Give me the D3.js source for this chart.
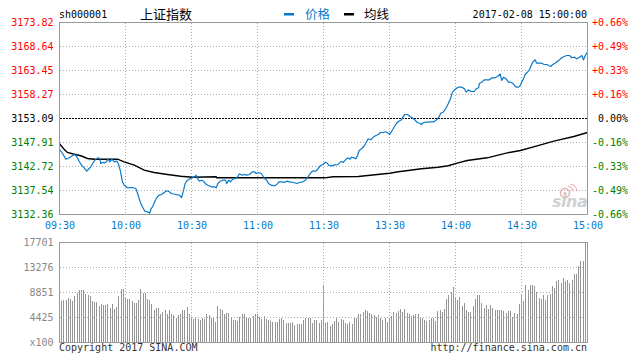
<!DOCTYPE html>
<html><head><meta charset="utf-8">
<script src="https://cdn.jsdelivr.net/npm/d3@7"></script>
<style>
html,body{margin:0;padding:0;background:#fff;}
svg{display:block;}
</style></head><body><svg id="c" width="643" height="358"></svg>
<script>
// ---- data ----
const symbol = "sh000001";
const title = "上证指数";
const stamp = "2017-02-08 15:00:00";
const prevClose = 3153.09;
const timeLabels = ["09:30","10:00","10:30","11:00","11:30","13:30","14:00","14:30","15:00"];
const timeMinutes = [0,30,60,90,120,150,180,210,240];
const priceTicks = [3173.82,3168.64,3163.45,3158.27,3153.09,3147.91,3142.72,3137.54,3132.36];
const pctLabels = ["+0.66%","+0.49%","+0.33%","+0.16%","0.00%","-0.16%","-0.33%","-0.49%","-0.66%"];
const volTicks = [17701,13276,8851,4425,0];
const volTickLabels = ["17701","13276","8851","4425","x100"];

const priceMinutes = [0,1.4,2.9,4.4,5.9,7.0,7.9,8.9,10.0,11.2,12.4,13.5,14.2,15.5,16.5,17.6,18.3,18.8,19.5,20.6,21.5,22.1,22.9,23.8,24.9,26.0,26.7,27.6,28.2,28.6,29.4,30.9,33.2,34.7,35.5,36.2,37.0,37.7,38.8,40.0,41.0,41.5,42.3,43.3,44.2,45.3,46.4,47.6,48.6,49.9,50.9,52.9,54.4,55.5,56.4,57.1,58.2,59.4,60.5,61.4,62.1,62.9,63.6,64.7,65.5,66.2,67.4,69.0,70.5,71.2,72.0,73.0,74.2,75.5,76.0,77.0,77.7,78.8,80.0,81.0,81.8,83.0,84.1,85.1,86.4,87.6,88.6,89.4,90.5,91.7,92.4,93.2,94.2,95.0,96.2,97.7,98.8,99.7,101.2,102.3,103.3,104.5,106.4,107.9,109.1,110.6,111.8,112.9,114.0,114.9,116.4,117.4,118.5,119.7,120.9,121.8,122.4,123.6,125.1,126.7,127.4,128.2,129.0,130.0,130.9,132.0,132.7,133.8,134.7,135.5,136.2,137.3,138.3,139.2,140.3,141.5,142.6,143.6,144.9,145.9,147.1,148.2,149.4,150.1,151.2,152.1,153.2,154.2,155.5,156.2,157.0,158.2,159.2,160.3,161.5,162.6,163.8,164.5,165.5,166.8,169.1,170.1,171.4,172.4,173.3,174.4,175.5,176.7,177.7,178.6,179.7,180.8,181.4,182.9,184.0,184.9,185.9,187.0,188.5,189.4,190.5,190.9,192.0,193.0,194.2,195.5,196.5,198.0,199.1,200.3,201.0,201.8,203.0,204.1,205.1,206.0,206.8,207.6,208.6,209.4,210.1,210.9,211.7,212.7,213.6,214.4,215.1,216.2,216.9,218.2,219.2,220.3,221.5,222.3,223.3,224.2,225.3,226.4,227.3,228.3,229.4,230.6,231.8,232.9,234.0,235.1,236.4,237.4,238.2,239.0,239.7,240];
const priceValues = [3146.40,3145.53,3144.30,3144.60,3145.03,3145.32,3144.82,3143.87,3143.01,3142.44,3141.71,3142.29,3142.66,3143.74,3144.30,3144.60,3144.45,3143.37,3143.59,3143.52,3143.87,3144.30,3143.74,3144.30,3143.74,3143.87,3143.37,3141.93,3140.50,3139.42,3138.69,3138.12,3138.19,3137.97,3136.89,3135.82,3134.73,3134.02,3133.07,3132.94,3132.64,3133.50,3134.02,3135.10,3135.97,3136.53,3136.68,3137.11,3137.48,3137.26,3136.89,3136.68,3136.53,3136.03,3137.61,3139.05,3139.77,3140.13,3140.28,3140.50,3140.85,3139.98,3139.55,3139.77,3139.55,3139.05,3138.69,3138.34,3138.34,3138.12,3139.05,3139.55,3139.77,3139.77,3139.05,3139.77,3139.42,3139.98,3140.13,3140.50,3141.15,3140.85,3141.00,3140.85,3141.00,3141.58,3141.58,3141.21,3141.43,3141.21,3140.72,3140.13,3139.77,3139.05,3138.69,3138.56,3138.84,3139.42,3139.42,3139.27,3139.55,3139.42,3139.27,3139.05,3139.27,3139.42,3139.77,3140.50,3141.21,3141.71,3141.71,3142.14,3142.88,3143.16,3143.65,3143.44,3142.94,3142.87,3143.09,3143.16,3143.65,3143.80,3143.59,3144.17,3144.60,3144.30,3144.73,3144.60,3144.39,3145.10,3146.18,3146.55,3147.04,3147.76,3148.71,3148.49,3149.05,3149.35,3149.63,3150.07,3150.07,3150.22,3149.92,3149.63,3150.50,3151.21,3152.07,3152.51,3152.81,3153.52,3153.95,3153.95,3153.52,3153.24,3152.81,3152.23,3152.07,3151.79,3152.23,3152.30,3152.38,3152.38,3152.81,3153.37,3154.23,3154.45,3155.18,3156.26,3157.34,3158.77,3159.29,3159.72,3159.85,3159.85,3159.50,3158.77,3159.29,3158.92,3158.92,3159.50,3159.72,3160.71,3160.93,3161.45,3161.45,3161.45,3161.88,3161.88,3162.16,3162.74,3161.30,3162.01,3161.66,3160.93,3160.93,3160.71,3160.22,3159.85,3159.85,3160.22,3160.93,3161.66,3162.59,3163.09,3163.61,3164.53,3165.25,3165.77,3165.03,3165.03,3165.03,3164.75,3164.75,3164.53,3164.32,3164.75,3165.03,3165.46,3165.77,3166.20,3166.48,3166.69,3166.69,3166.20,3166.33,3165.98,3166.33,3166.69,3165.77,3166.69,3167.19,3167.41];

const avgMinutes = [0,2.1,3.6,6.7,9.7,12.7,15.8,26.4,29.4,34.0,38.5,43.0,49.1,55.1,60.5,71.2,71.5,120.5,124.4,135.8,145.6,150.1,154.0,158.5,164.5,172.1,176.7,180.8,185.3,194.4,203.5,209.5,217.1,224.7,233.8,240];
const avgValues = [3147.63,3146.46,3145.75,3145.38,3145.04,3144.45,3144.30,3144.30,3143.74,3143.01,3141.93,3141.43,3141.00,3140.63,3140.41,3140.50,3140.28,3140.28,3140.50,3140.57,3141.06,3141.28,3141.58,3141.86,3142.23,3142.57,3142.88,3143.44,3144.02,3144.60,3145.68,3146.18,3147.19,3148.19,3149.20,3150.07];

const volumes = [12803,7316,7493,7493,7965,7788,7316,8201,8850,9263,
9263,9263,8673,8378,8201,7375,7198,7198,6431,6785,
6608,6608,6785,6195,6785,6018,6313,8201,9440,9440,
8083,7670,7670,7316,7021,7021,7611,9440,8850,8850,
7788,7493,6785,5841,6136,6136,5133,5428,5723,5015,
5723,5015,4838,4425,4838,5015,5841,5841,6313,5133,
4543,4130,4425,4130,3953,4425,4248,5015,4838,4366,
4543,3658,6431,6018,5723,5015,5251,5251,4543,3953,
3953,3835,4543,5133,5133,4543,4425,4425,4661,5015,
5015,4543,4248,4661,4248,3953,3835,3658,3658,3658,
4248,4366,3953,3481,3481,3481,3658,3068,3245,3245,
3245,3953,4425,4425,4425,3481,3953,3953,3481,4071,
10266,3481,3658,2891,3245,3776,4425,3658,4248,4071,
3481,3363,3658,3245,4425,4425,5015,5015,5428,5723,
5546,5251,5015,4838,4543,4838,4425,3953,4425,3658,
4248,4661,5428,5251,5605,6018,5428,6018,5251,5133,
4661,4838,5015,5015,4425,4425,3953,3835,4071,4425,
4425,3835,5546,5723,5428,5900,7788,8378,8968,9853,
8083,7493,8083,6431,7021,5841,5428,5428,6431,7788,
8378,8378,7021,6195,6608,6018,6608,6195,5841,5841,
5841,5841,5546,5251,5546,5546,4543,5251,5133,6903,
8378,7375,10148,9381,10148,10148,9971,8968,7965,7788,
8378,7611,8378,8555,9971,9735,10915,11151,10561,11505,
10915,11151,10561,11151,12213,12213,13511,14396,14396,17701,
17701];

// ---- drawing ----
const MONO = "'DejaVu Sans Mono','Liberation Mono',monospace";
const CJK = "'Noto Sans CJK SC','Noto Sans',sans-serif";
const BLUE = "#0a78c8", GRID = "#adadad", BORDER = "#999", RED = "#ff0000", GREEN = "#008000";
const L = 59.5, R = 587.5, T = 22.5, B = 214.5, VT = 242.5, VB = 342.5;

const svg = d3.select("#c");
const x = d3.scaleLinear().domain([0, 240]).range([L, R]);
const y = d3.scaleLinear().domain([priceTicks[priceTicks.length-1], priceTicks[0]]).range([B, T]);
const yv = d3.scaleLinear().domain([0, volTicks[0]]).range([VB, VT]);
const snap = v => Math.round(v - 0.5) + 0.5;

// header
svg.append("text").attr("x", 59).attr("y", 18).attr("font-family", MONO).attr("font-size", 10).attr("fill", "#000").text(symbol);
svg.append("text").attr("x", 140).attr("y", 19).attr("font-family", CJK).attr("font-size", 13).attr("fill", "#000").text(title);
svg.append("rect").attr("x", 284).attr("y", 13).attr("width", 10).attr("height", 2.5).attr("fill", BLUE);
svg.append("text").attr("x", 305).attr("y", 19).attr("font-family", CJK).attr("font-size", 12.5).attr("fill", BLUE).text("价格");
svg.append("rect").attr("x", 344).attr("y", 13).attr("width", 10).attr("height", 2.5).attr("fill", "#000");
svg.append("text").attr("x", 364).attr("y", 19).attr("font-family", CJK).attr("font-size", 12.5).attr("fill", "#000").text("均线");
svg.append("text").attr("x", 587).attr("y", 18).attr("text-anchor", "end").attr("font-family", MONO).attr("font-size", 10).attr("fill", "#000").text(stamp);

// grids - main
const gMain = svg.append("g").attr("shape-rendering", "crispEdges");
gMain.selectAll("line.h").data(priceTicks.slice(1, -1).filter(d => d !== prevClose)).join("line")
  .attr("x1", L).attr("x2", R).attr("y1", d => snap(y(d))).attr("y2", d => snap(y(d)))
  .attr("stroke", GRID).attr("stroke-dasharray", "1,2");
gMain.selectAll("line.v").data(timeMinutes.slice(1, -1)).join("line")
  .attr("y1", T).attr("y2", B).attr("x1", d => snap(x(d))).attr("x2", d => snap(x(d)))
  .attr("stroke", GRID).attr("stroke-dasharray", "1,2");
gMain.append("line").attr("x1", L).attr("x2", R).attr("y1", snap(y(prevClose))).attr("y2", snap(y(prevClose)))
  .attr("stroke", "#000").attr("stroke-dasharray", "2,1");

// watermark
const wm = svg.append("g").attr("opacity", 0.55);
wm.append("circle").attr("cx", 565).attr("cy", 193).attr("r", 4.5).attr("fill", "none").attr("stroke", "#e07878").attr("stroke-width", 1.6);
wm.append("circle").attr("cx", 565).attr("cy", 193.5).attr("r", 1.6).attr("fill", "#999");
wm.append("path").attr("d", "M568 186 q4 1 5 5 M570 184 q6 1 7 7").attr("fill", "none").attr("stroke", "#e07878").attr("stroke-width", 1.2);
wm.append("text").attr("x", 552).attr("y", 207).attr("font-family", "'DejaVu Sans',sans-serif").attr("font-size", 16)
  .attr("font-weight", "bold").attr("font-style", "italic").attr("fill", "#aaa").attr("letter-spacing", -0.5).text("sina");

// lines
const line = d3.line().x(d => x(d[0])).y(d => y(d[1]));
svg.append("path").datum(avgMinutes.map((m, i) => [m, avgValues[i]]))
  .attr("d", line).attr("fill", "none").attr("stroke", "#000").attr("stroke-width", 1.4);
svg.append("path").datum(priceMinutes.map((m, i) => [m, priceValues[i]]))
  .attr("d", line).attr("fill", "none").attr("stroke", BLUE).attr("stroke-width", 1.2).attr("stroke-linejoin", "round");

// main border
svg.append("rect").attr("x", L).attr("y", T).attr("width", R - L).attr("height", B - T)
  .attr("fill", "none").attr("stroke", BORDER).attr("shape-rendering", "crispEdges");

// left price axis
const axL = svg.append("g").attr("transform", `translate(${L},0)`)
  .call(d3.axisLeft(y).tickValues(priceTicks).tickSize(0).tickPadding(6).tickFormat(d => d.toFixed(2)));
axL.select(".domain").remove();
axL.attr("font-family", MONO).attr("font-size", 10);
axL.selectAll("text").attr("fill", d => d > prevClose ? RED : (d < prevClose ? GREEN : "#000"));

// right pct axis
const axR = svg.append("g").attr("transform", `translate(${R},0)`)
  .call(d3.axisRight(y).tickValues(priceTicks).tickSize(0).tickFormat((d, i) => pctLabels[i]));
axR.select(".domain").remove();
axR.attr("font-family", MONO).attr("font-size", 10);
axR.selectAll("text").attr("text-anchor", "end").attr("x", 628 - R)
  .attr("fill", d => d > prevClose ? RED : (d < prevClose ? GREEN : "#000"));

// time axis
const axB = svg.append("g").attr("transform", `translate(0,${B - 0.5})`)
  .call(d3.axisBottom(x).tickValues(timeMinutes).tickSize(0).tickPadding(8).tickFormat((d, i) => timeLabels[i]));
axB.select(".domain").remove();
axB.attr("font-family", MONO).attr("font-size", 10);
axB.selectAll("text").attr("fill", BLUE);

// volume bars
svg.append("g").attr("shape-rendering", "crispEdges").selectAll("rect").data(volumes).join("rect")
  .attr("x", (d, i) => Math.round(x(i) - 0.5)).attr("width", 1)
  .attr("y", d => Math.round(yv(d))).attr("height", d => VB - Math.round(yv(d)))
  .attr("fill", "#959595");

// volume grids
const gVol = svg.append("g").attr("shape-rendering", "crispEdges");
gVol.selectAll("line.h").data(volTicks.slice(1, -1)).join("line")
  .attr("x1", L).attr("x2", R).attr("y1", d => snap(yv(d))).attr("y2", d => snap(yv(d)))
  .attr("stroke", GRID).attr("stroke-dasharray", "1,2");
gVol.selectAll("line.v").data(timeMinutes.slice(1, -1)).join("line")
  .attr("y1", VT).attr("y2", VB).attr("x1", d => snap(x(d))).attr("x2", d => snap(x(d)))
  .attr("stroke", GRID).attr("stroke-dasharray", "1,2");
svg.append("rect").attr("x", L).attr("y", VT).attr("width", R - L).attr("height", VB - VT)
  .attr("fill", "none").attr("stroke", BORDER).attr("shape-rendering", "crispEdges");

// volume axis
const axV = svg.append("g").attr("transform", `translate(${L},0)`)
  .call(d3.axisLeft(yv).tickValues(volTicks).tickSize(0).tickPadding(6).tickFormat((d, i) => volTickLabels[i]));
axV.select(".domain").remove();
axV.attr("font-family", MONO).attr("font-size", 10);
axV.selectAll("text").attr("fill", "#888");

// footer
svg.append("text").attr("x", 59).attr("y", 351).attr("font-family", MONO).attr("font-size", 10).attr("fill", "#333").text("Copyright 2017 SINA.COM");
svg.append("text").attr("x", 587).attr("y", 351).attr("text-anchor", "end").attr("font-family", MONO).attr("font-size", 10).attr("fill", "#333").text("http://finance.sina.com.cn");
</script></body></html>
